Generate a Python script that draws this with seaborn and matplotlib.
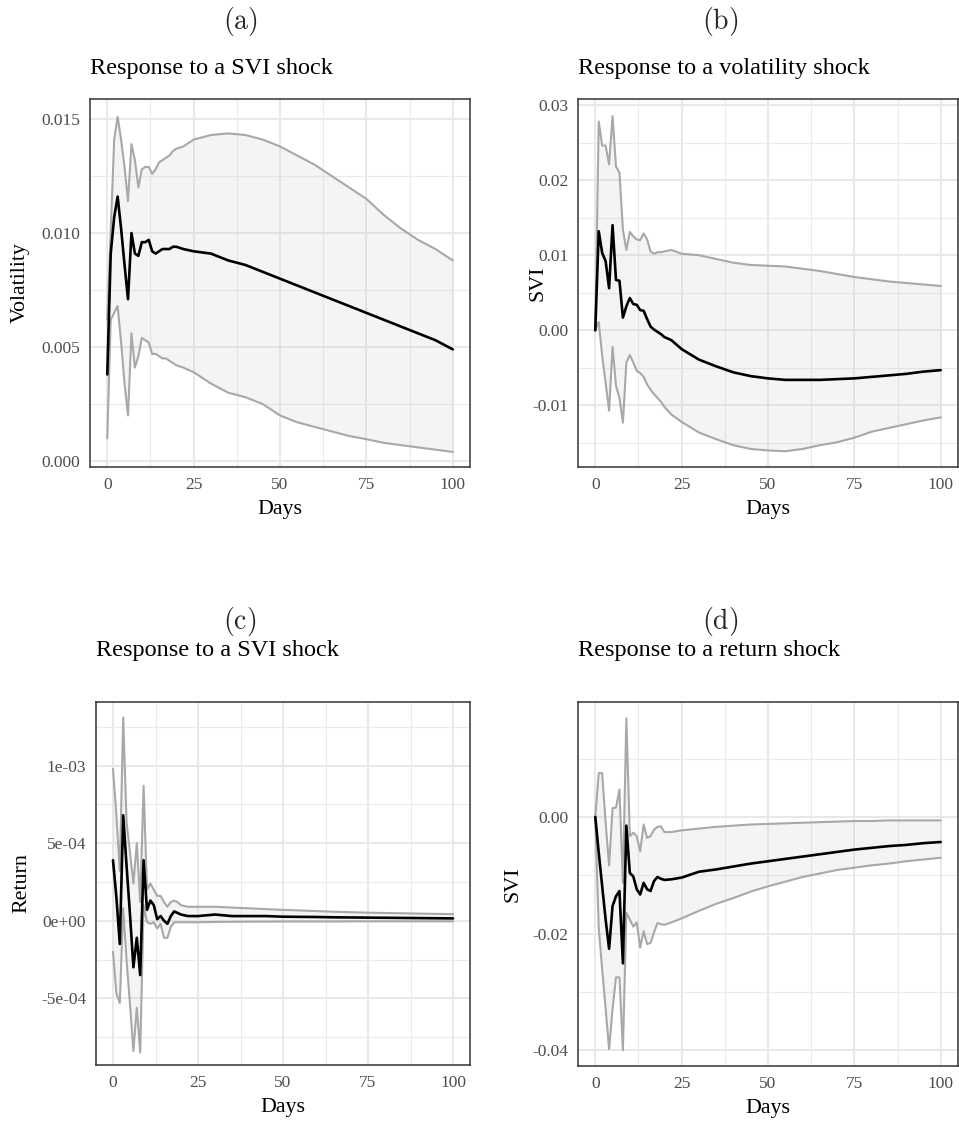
import matplotlib
matplotlib.use("Agg")
import matplotlib.pyplot as plt
from matplotlib.ticker import MultipleLocator
import pandas as pd
import seaborn as sns

# impulse response functions (days since shock)
days = [0, 1, 2, 3, 4, 5, 6, 7, 8, 9, 10, 11, 12, 13, 14, 15, 16, 17, 18, 19, 20,
        22, 25, 30, 35, 40, 45, 50, 55, 60, 65, 70, 75, 80, 85, 90, 95, 100]

# (a) volatility response to a SVI shock
vol_svi = [0.0038, 0.0091, 0.0107, 0.0116, 0.0102, 0.0086, 0.0071, 0.0100, 0.0091, 0.0090,
           0.0096, 0.0096, 0.0097, 0.0092, 0.0091, 0.0092, 0.0093, 0.0093, 0.0093, 0.0094, 0.0094,
           0.0093, 0.0092, 0.0091, 0.0088, 0.0086, 0.0083, 0.0080, 0.0077, 0.0074, 0.0071,
           0.0068, 0.0065, 0.0062, 0.0059, 0.0056, 0.0053, 0.0049]
vol_svi_hi = [0.0062, 0.0101, 0.0141, 0.0151, 0.0141, 0.0129, 0.0114, 0.0139, 0.0132, 0.0120,
              0.0128, 0.0129, 0.0129, 0.0126, 0.0128, 0.0131, 0.0132, 0.0133, 0.0134, 0.0136, 0.0137,
              0.0138, 0.0141, 0.0143, 0.01437, 0.0143, 0.0141, 0.0138, 0.0134, 0.0130, 0.0125,
              0.0120, 0.0115, 0.0108, 0.0102, 0.0097, 0.0093, 0.0088]
vol_svi_lo = [0.0010, 0.0062, 0.0065, 0.0068, 0.0052, 0.0034, 0.0020, 0.0056, 0.0041, 0.0046,
              0.0054, 0.0053, 0.0052, 0.0047, 0.0047, 0.0046, 0.0045, 0.0045, 0.0044, 0.0043, 0.0042,
              0.0041, 0.0039, 0.0034, 0.0030, 0.0028, 0.0025, 0.0020, 0.0017, 0.0015, 0.0013,
              0.0011, 0.00096, 0.0008, 0.0007, 0.0006, 0.0005, 0.0004]

# (b) SVI response to a volatility shock
svi_vol = [0.0, 0.0132, 0.0103, 0.0092, 0.0056, 0.0140, 0.0067, 0.0066, 0.0017, 0.0032,
           0.0043, 0.0035, 0.0034, 0.0027, 0.0026, 0.0015, 0.0005, 0.0001, -0.0002, -0.0005, -0.0009,
           -0.0013, -0.0025, -0.0039, -0.0048, -0.0056, -0.0061, -0.0064, -0.0066, -0.0066, -0.0066,
           -0.0065, -0.0064, -0.0062, -0.0060, -0.0058, -0.0055, -0.0053]
svi_vol_hi = [0.0, 0.0278, 0.0246, 0.0246, 0.0221, 0.0285, 0.0218, 0.0210, 0.0134, 0.0107,
              0.0131, 0.0125, 0.0121, 0.0120, 0.0129, 0.0121, 0.0105, 0.0102, 0.0104, 0.0104, 0.0105,
              0.0107, 0.0102, 0.0100, 0.0095, 0.0090, 0.0087, 0.0086, 0.0085, 0.0082, 0.0079,
              0.0075, 0.0071, 0.0068, 0.0065, 0.0063, 0.0061, 0.0059]
svi_vol_lo = [0.0, 0.0011, -0.0034, -0.0070, -0.0107, -0.0022, -0.0074, -0.0090, -0.0123, -0.0043,
              -0.0033, -0.0043, -0.0054, -0.0057, -0.0062, -0.0072, -0.0079, -0.0085, -0.0090, -0.0095, -0.0102,
              -0.0112, -0.0122, -0.0136, -0.0145, -0.0153, -0.0158, -0.0160, -0.0161, -0.0158, -0.0153,
              -0.0149, -0.0143, -0.0135, -0.0130, -0.0125, -0.0120, -0.0116]

# (c) return response to a SVI shock
ret_svi = [0.00039, 0.00015, -0.00015, 0.00068, 0.00035, 0.00004, -0.00030, -0.00011, -0.00035, 0.00039,
           0.00007, 0.00013, 0.00010, 0.00001, 0.00003, 0.00000, -0.00002, 0.00003, 0.00006, 0.00005, 0.00004,
           0.00003, 0.00003, 0.00004, 0.00003, 0.00003, 0.00003, 0.000026, 0.000025, 0.000024, 0.000022,
           0.000021, 0.00002, 0.000019, 0.000018, 0.000017, 0.000016, 0.000015]
ret_svi_hi = [0.00098, 0.00068, 0.00032, 0.00131, 0.00063, 0.00044, 0.00024, 0.00050, 0.00012, 0.00087,
              0.00020, 0.00024, 0.00020, 0.00016, 0.00016, 0.00012, 0.00009, 0.00012, 0.00013, 0.00012, 0.00010,
              0.00009, 0.00009, 0.00009, 0.000085, 0.00008, 0.000075, 0.00007, 0.000066, 0.000062, 0.000058,
              0.000055, 0.000052, 0.00005, 0.000048, 0.000046, 0.000044, 0.000043]
ret_svi_lo = [-0.00020, -0.00047, -0.00053, 0.00008, -0.00026, -0.00054, -0.00084, -0.00056, -0.00085, 0.00010,
              -0.00001, -0.00002, -0.00001, -0.00005, -0.00002, -0.00011, -0.00011, -0.00004, -0.00001, -0.00001, -0.00001,
              -0.00001, -0.00001, -0.000008, -0.000007, -0.000006, -0.000006, -0.000005, -0.000005, -0.000005, -0.000005,
              -0.000004, -0.000004, -0.000004, -0.000004, -0.000004, -0.000004, -0.000004]

# (d) SVI response to a return shock
svi_ret = [0.0, -0.0061, -0.0119, -0.0176, -0.0226, -0.0153, -0.0136, -0.0127, -0.0251, -0.0015,
           -0.0096, -0.0102, -0.0124, -0.0133, -0.0113, -0.0124, -0.0127, -0.0110, -0.0103, -0.0106, -0.0108,
           -0.0107, -0.0104, -0.0094, -0.0090, -0.0085, -0.0080, -0.0076, -0.0072, -0.0068, -0.0064,
           -0.0060, -0.0056, -0.0053, -0.0050, -0.0048, -0.0045, -0.0043]
svi_ret_hi = [0.0, 0.0075, 0.0075, -0.0010, -0.0083, 0.0015, 0.0016, 0.0047, -0.0113, 0.0169,
              -0.0033, -0.0027, -0.0033, -0.0059, -0.0013, -0.0036, -0.0033, -0.0022, -0.0017, -0.0016, -0.0026,
              -0.0026, -0.0023, -0.0020, -0.0017, -0.0015, -0.0013, -0.0012, -0.0011, -0.0010, -0.0009,
              -0.0008, -0.0007, -0.0007, -0.0006, -0.0006, -0.0006, -0.0006]
svi_ret_lo = [0.0, -0.0190, -0.0262, -0.0329, -0.0398, -0.0330, -0.0275, -0.0275, -0.0400, -0.0164,
              -0.0176, -0.0188, -0.0181, -0.0224, -0.0196, -0.0218, -0.0216, -0.0198, -0.0182, -0.0184, -0.0185,
              -0.0181, -0.0174, -0.0161, -0.0149, -0.0139, -0.0128, -0.0119, -0.0111, -0.0103, -0.0097,
              -0.0091, -0.0087, -0.0083, -0.0080, -0.0076, -0.0073, -0.0070]

x_ticks = [0, 25, 50, 75, 100]
a_ticks = [0.000, 0.005, 0.010, 0.015]
a_labels = ["0.000", "0.005", "0.010", "0.015"]
b_ticks = [-0.01, 0.00, 0.01, 0.02, 0.03]
b_labels = ["-0.01", "0.00", "0.01", "0.02", "0.03"]
c_ticks = [-5e-04, 0.0, 5e-04, 1e-03]
c_labels = ["-5e-04", "0e+00", "5e-04", "1e-03"]
d_ticks = [-0.04, -0.02, 0.00]
d_labels = ["-0.04", "-0.02", "0.00"]

sns.set_theme(style="white")
plt.rcParams["font.family"] = ["Liberation Serif", "DejaVu Serif"]
plt.rcParams["mathtext.fontset"] = "cm"

W, H = 959, 1126
fig = plt.figure(figsize=(W / 100, H / 100), dpi=100)
fig.patch.set_facecolor("white")


def panel(box, irf, lo, hi, title, ylab, ylim, ticks, labels, minor, tag, tag_xy, title_pad, ylab_x):
    left, top, right, bottom = box
    ax = fig.add_axes([left / W, 1 - bottom / H, (right - left) / W, (bottom - top) / H])
    ax.set_facecolor("white")

    ax.fill_between(days, lo, hi, color="#bebebe", alpha=0.16, linewidth=0, zorder=1)
    band = pd.DataFrame({"Days": days, "lo": lo, "hi": hi, "irf": irf})
    sns.lineplot(data=band, x="Days", y="lo", ax=ax, color="#a8a8a8", lw=1.5, zorder=2)
    sns.lineplot(data=band, x="Days", y="hi", ax=ax, color="#a8a8a8", lw=1.5, zorder=2)
    sns.lineplot(data=band, x="Days", y="irf", ax=ax, color="black", lw=1.9, zorder=3)

    ax.set_xlim(-5, 105)
    ax.set_ylim(*ylim)
    ax.set_xticks(x_ticks, [str(t) for t in x_ticks])
    ax.set_yticks(ticks, labels)
    ax.xaxis.set_minor_locator(MultipleLocator(12.5))
    ax.yaxis.set_minor_locator(MultipleLocator(minor))

    ax.set_axisbelow(True)
    ax.grid(which="major", color="#e8e8e8", lw=1.4)
    ax.grid(which="minor", color="#ebebeb", lw=0.8)
    ax.tick_params(which="major", length=4.5, width=1.0, color="#333333",
                   labelsize=12.5, labelcolor="#4d4d4d", pad=2.5)
    ax.tick_params(which="minor", length=0)
    for s in ax.spines.values():
        s.set_visible(True)
        s.set_color("#333333")
        s.set_linewidth(1.1)

    ax.set_xlabel("Days", fontsize=15.8, color="black", labelpad=5)
    ax.set_ylabel(ylab, fontsize=15.8, color="black", va="center")
    ax.yaxis.set_label_coords((ylab_x - left) / (right - left), 0.5)
    ax.set_title(title, loc="left", fontsize=17.5, color="black", pad=title_pad)
    fig.text(tag_xy[0] / W, 1 - tag_xy[1] / H, r"$\mathrm{" + tag + "}$",
             ha="center", va="center", fontsize=20)
    return ax


panel((90, 99, 470, 467), vol_svi, vol_svi_lo, vol_svi_hi, "Response to a SVI shock", "Volatility",
      (-0.00026, 0.01588), a_ticks, a_labels, 0.0025, "(a)", (240, 21), 18, 20)
panel((578, 99, 958, 467), svi_vol, svi_vol_lo, svi_vol_hi, "Response to a volatility shock", "SVI",
      (-0.0182, 0.0308), b_ticks, b_labels, 0.005, "(b)", (720, 21), 18, 538)
panel((96, 702, 470, 1065), ret_svi, ret_svi_lo, ret_svi_hi, "Response to a SVI shock", "Return",
      (-0.00093, 0.00141), c_ticks, c_labels, 0.00025, "(c)", (240, 622), 33, 22)
panel((578, 702, 958, 1066), svi_ret, svi_ret_lo, svi_ret_hi, "Response to a return shock", "SVI",
      (-0.0427, 0.0197), d_ticks, d_labels, 0.01, "(d)", (720, 622), 33, 513)

fig.savefig("out.png", dpi=100, facecolor="white")
